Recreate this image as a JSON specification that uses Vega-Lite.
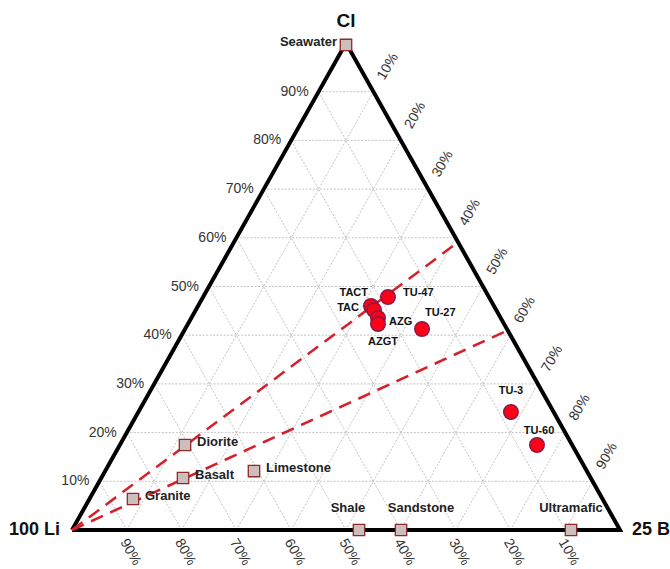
{
  "$schema": "https://vega.github.io/schema/vega-lite/v6.json",
  "width": 548,
  "height": 487,
  "autosize": {"type": "none"},
  "padding": {"left": 72, "top": 43, "right": 50, "bottom": 39},
  "background": "white",
  "config": {"view": {"stroke": null}, "text": {"font": "Liberation Sans"}},
  "datasets": {
    "grid": [
      {"x": 5, "y": 10, "x2": 95, "y2": 10},
      {"x": 10, "y": 20, "x2": 90, "y2": 20},
      {"x": 15, "y": 30, "x2": 85, "y2": 30},
      {"x": 20, "y": 40, "x2": 80, "y2": 40},
      {"x": 25, "y": 50, "x2": 75, "y2": 50},
      {"x": 30, "y": 60, "x2": 70, "y2": 60},
      {"x": 35, "y": 70, "x2": 65, "y2": 70},
      {"x": 40, "y": 80, "x2": 60, "y2": 80},
      {"x": 45, "y": 90, "x2": 55, "y2": 90},
      {"x": 10, "y": 0, "x2": 55, "y2": 90},
      {"x": 20, "y": 0, "x2": 60, "y2": 80},
      {"x": 30, "y": 0, "x2": 65, "y2": 70},
      {"x": 40, "y": 0, "x2": 70, "y2": 60},
      {"x": 50, "y": 0, "x2": 75, "y2": 50},
      {"x": 60, "y": 0, "x2": 80, "y2": 40},
      {"x": 70, "y": 0, "x2": 85, "y2": 30},
      {"x": 80, "y": 0, "x2": 90, "y2": 20},
      {"x": 90, "y": 0, "x2": 95, "y2": 10},
      {"x": 10, "y": 0, "x2": 5, "y2": 10},
      {"x": 20, "y": 0, "x2": 10, "y2": 20},
      {"x": 30, "y": 0, "x2": 15, "y2": 30},
      {"x": 40, "y": 0, "x2": 20, "y2": 40},
      {"x": 50, "y": 0, "x2": 25, "y2": 50},
      {"x": 60, "y": 0, "x2": 30, "y2": 60},
      {"x": 70, "y": 0, "x2": 35, "y2": 70},
      {"x": 80, "y": 0, "x2": 40, "y2": 80},
      {"x": 90, "y": 0, "x2": 45, "y2": 90}
    ],
    "frame": [
      {"x": 0, "y": 0, "o": 0},
      {"x": 50, "y": 100, "o": 1},
      {"x": 100, "y": 0, "o": 2},
      {"x": 0, "y": 0, "o": 3}
    ],
    "trends": [
      {"x": 0, "y": 0, "x2": 70.45, "y2": 59.1},
      {"x": 0, "y": 0, "x2": 79.5, "y2": 41}
    ],
    "leftTicks": [
      {"x": 5, "y": 10, "t": "10%"}, {"x": 10, "y": 20, "t": "20%"}, {"x": 15, "y": 30, "t": "30%"},
      {"x": 20, "y": 40, "t": "40%"}, {"x": 25, "y": 50, "t": "50%"}, {"x": 30, "y": 60, "t": "60%"},
      {"x": 35, "y": 70, "t": "70%"}, {"x": 40, "y": 80, "t": "80%"}, {"x": 45, "y": 90, "t": "90%"}
    ],
    "rightTicks": [
      {"x": 55, "y": 90, "t": "10%"}, {"x": 60, "y": 80, "t": "20%"}, {"x": 65, "y": 70, "t": "30%"},
      {"x": 70, "y": 60, "t": "40%"}, {"x": 75, "y": 50, "t": "50%"}, {"x": 80, "y": 40, "t": "60%"},
      {"x": 85, "y": 30, "t": "70%"}, {"x": 90, "y": 20, "t": "80%"}, {"x": 95, "y": 10, "t": "90%"}
    ],
    "bottomTicks": [
      {"x": 10, "y": 0, "t": "90%"}, {"x": 20, "y": 0, "t": "80%"}, {"x": 30, "y": 0, "t": "70%"},
      {"x": 40, "y": 0, "t": "60%"}, {"x": 50, "y": 0, "t": "50%"}, {"x": 60, "y": 0, "t": "40%"},
      {"x": 70, "y": 0, "t": "30%"}, {"x": 80, "y": 0, "t": "20%"}, {"x": 90, "y": 0, "t": "10%"}
    ],
    "corners": [
      {"x": 0, "y": 0, "t": "100 Li"},
      {"x": 100, "y": 0, "t": "25 B"},
      {"x": 50, "y": 100, "t": "Cl"}
    ],
    "samples": [
      {"name": "TU-47", "x": 57.66, "y": 47.84},
      {"name": "TACT", "x": 54.56, "y": 46.0},
      {"name": "TAC", "x": 55.11, "y": 45.17},
      {"name": "AZG", "x": 55.84, "y": 43.53},
      {"name": "AZGT", "x": 55.84, "y": 42.3},
      {"name": "TU-27", "x": 63.87, "y": 41.27},
      {"name": "TU-3", "x": 80.1, "y": 24.23},
      {"name": "TU-60", "x": 84.85, "y": 17.45}
    ],
    "rocks": [
      {"name": "Seawater", "x": 50, "y": 99.6},
      {"name": "Diorite", "x": 20.62, "y": 17.45},
      {"name": "Basalt", "x": 20.26, "y": 10.68},
      {"name": "Granite", "x": 11.13, "y": 6.37},
      {"name": "Limestone", "x": 33.21, "y": 12.11},
      {"name": "Shale", "x": 52.37, "y": 0},
      {"name": "Sandstone", "x": 60.04, "y": 0},
      {"name": "Ultramafic", "x": 91.06, "y": 0}
    ]
  },
  "encoding": {
    "x": {"field": "x", "type": "quantitative", "scale": {"domain": [0, 100], "nice": false, "zero": false}, "axis": null},
    "y": {"field": "y", "type": "quantitative", "scale": {"domain": [0, 100], "nice": false, "zero": false}, "axis": null}
  },
  "layer": [
    {
      "data": {"name": "grid"},
      "mark": {"type": "rule", "color": "#b4b4b4", "strokeWidth": 0.8, "strokeDash": [2, 1.5]},
      "encoding": {"x2": {"field": "x2"}, "y2": {"field": "y2"}}
    },
    {
      "data": {"name": "frame"},
      "mark": {"type": "line", "color": "black", "strokeWidth": 4, "strokeJoin": "miter", "clip": false},
      "encoding": {"order": {"field": "o", "type": "quantitative"}}
    },
    {
      "data": {"name": "trends"},
      "mark": {"type": "rule", "color": "#d4202a", "strokeWidth": 2.5, "strokeDash": [13, 8]},
      "encoding": {"x2": {"field": "x2"}, "y2": {"field": "y2"}}
    },
    {
      "data": {"name": "rocks"},
      "mark": {"type": "point", "shape": "square", "size": 130, "filled": true, "fill": "#cdbdbd", "stroke": "#8e2a2a", "strokeWidth": 1.3, "opacity": 1, "clip": false}
    },
    {
      "data": {"name": "samples"},
      "mark": {"type": "point", "shape": "circle", "size": 210, "filled": true, "fill": "#ff0016", "stroke": "#8a1848", "strokeWidth": 1.5, "opacity": 1}
    },
    {
      "data": {"name": "leftTicks"},
      "mark": {"type": "text", "align": "right", "baseline": "middle", "dx": -10, "fontSize": 14, "color": "#333"},
      "encoding": {"text": {"field": "t"}}
    },
    {
      "data": {"name": "rightTicks"},
      "mark": {"type": "text", "align": "center", "baseline": "middle", "angle": -60, "dx": 29, "dy": 0, "fontSize": 14, "color": "#333"},
      "encoding": {"text": {"field": "t"}}
    },
    {
      "data": {"name": "bottomTicks"},
      "mark": {"type": "text", "align": "center", "baseline": "middle", "angle": 60, "dx": 21, "dy": 8, "fontSize": 14, "color": "#333"},
      "encoding": {"text": {"field": "t"}}
    },
    {
      "data": {"name": "corners"},
      "transform": [{"filter": "datum.t == '100 Li'"}],
      "mark": {"type": "text", "align": "right", "baseline": "middle", "dx": -12, "fontSize": 18, "fontWeight": "bold", "color": "#111"},
      "encoding": {"text": {"field": "t"}}
    },
    {
      "data": {"name": "corners"},
      "transform": [{"filter": "datum.t == '25 B'"}],
      "mark": {"type": "text", "align": "left", "baseline": "middle", "dx": 12, "fontSize": 18, "fontWeight": "bold", "color": "#111"},
      "encoding": {"text": {"field": "t"}}
    },
    {
      "data": {"name": "corners"},
      "transform": [{"filter": "datum.t == 'Cl'"}],
      "mark": {"type": "text", "align": "center", "baseline": "middle", "dy": -22, "fontSize": 19, "fontWeight": "bold", "color": "#111"},
      "encoding": {"text": {"field": "t"}}
    },
    {
      "data": {"name": "rocks"},
      "transform": [{"filter": "datum.name == 'Seawater'"}],
      "mark": {"type": "text", "align": "right", "baseline": "middle", "dx": -9, "dy": -3, "fontSize": 13, "fontWeight": "bold", "color": "#222"},
      "encoding": {"text": {"field": "name"}}
    },
    {
      "data": {"name": "rocks"},
      "transform": [{"filter": "indexof(['Diorite','Basalt','Granite','Limestone'], datum.name) >= 0"}],
      "mark": {"type": "text", "align": "left", "baseline": "middle", "dx": 12, "dy": -3, "fontSize": 13, "fontWeight": "bold", "color": "#222"},
      "encoding": {"text": {"field": "name"}}
    },
    {
      "data": {"name": "rocks"},
      "transform": [{"filter": "datum.name == 'Shale'"}],
      "mark": {"type": "text", "align": "center", "baseline": "middle", "dx": -11, "dy": -22, "fontSize": 13, "fontWeight": "bold", "color": "#222"},
      "encoding": {"text": {"field": "name"}}
    },
    {
      "data": {"name": "rocks"},
      "transform": [{"filter": "datum.name == 'Sandstone'"}],
      "mark": {"type": "text", "align": "center", "baseline": "middle", "dx": 20, "dy": -22, "fontSize": 13, "fontWeight": "bold", "color": "#222"},
      "encoding": {"text": {"field": "name"}}
    },
    {
      "data": {"name": "rocks"},
      "transform": [{"filter": "datum.name == 'Ultramafic'"}],
      "mark": {"type": "text", "align": "center", "baseline": "middle", "dx": 0, "dy": -22, "fontSize": 13, "fontWeight": "bold", "color": "#222"},
      "encoding": {"text": {"field": "name"}}
    },
    {
      "data": {"name": "samples"},
      "transform": [{"filter": "datum.name == 'TACT'"}],
      "mark": {"type": "text", "align": "right", "baseline": "middle", "dx": -3, "dy": -13, "fontSize": 11, "fontWeight": "bold", "color": "#111"},
      "encoding": {"text": {"field": "name"}}
    },
    {
      "data": {"name": "samples"},
      "transform": [{"filter": "datum.name == 'TAC'"}],
      "mark": {"type": "text", "align": "right", "baseline": "middle", "dx": -15, "dy": -2, "fontSize": 11, "fontWeight": "bold", "color": "#111"},
      "encoding": {"text": {"field": "name"}}
    },
    {
      "data": {"name": "samples"},
      "transform": [{"filter": "datum.name == 'TU-47'"}],
      "mark": {"type": "text", "align": "left", "baseline": "middle", "dx": 15, "dy": -4, "fontSize": 11, "fontWeight": "bold", "color": "#111"},
      "encoding": {"text": {"field": "name"}}
    },
    {
      "data": {"name": "samples"},
      "transform": [{"filter": "datum.name == 'AZG'"}],
      "mark": {"type": "text", "align": "left", "baseline": "middle", "dx": 11, "dy": 4, "fontSize": 11, "fontWeight": "bold", "color": "#111"},
      "encoding": {"text": {"field": "name"}}
    },
    {
      "data": {"name": "samples"},
      "transform": [{"filter": "datum.name == 'AZGT'"}],
      "mark": {"type": "text", "align": "center", "baseline": "middle", "dx": 5, "dy": 18, "fontSize": 11, "fontWeight": "bold", "color": "#111"},
      "encoding": {"text": {"field": "name"}}
    },
    {
      "data": {"name": "samples"},
      "transform": [{"filter": "datum.name == 'TU-27'"}],
      "mark": {"type": "text", "align": "left", "baseline": "middle", "dx": 3, "dy": -16, "fontSize": 11, "fontWeight": "bold", "color": "#111"},
      "encoding": {"text": {"field": "name"}}
    },
    {
      "data": {"name": "samples"},
      "transform": [{"filter": "datum.name == 'TU-3'"}],
      "mark": {"type": "text", "align": "center", "baseline": "middle", "dx": 0, "dy": -21, "fontSize": 11, "fontWeight": "bold", "color": "#111"},
      "encoding": {"text": {"field": "name"}}
    },
    {
      "data": {"name": "samples"},
      "transform": [{"filter": "datum.name == 'TU-60'"}],
      "mark": {"type": "text", "align": "center", "baseline": "middle", "dx": 2, "dy": -14, "fontSize": 11, "fontWeight": "bold", "color": "#111"},
      "encoding": {"text": {"field": "name"}}
    }
  ]
}
